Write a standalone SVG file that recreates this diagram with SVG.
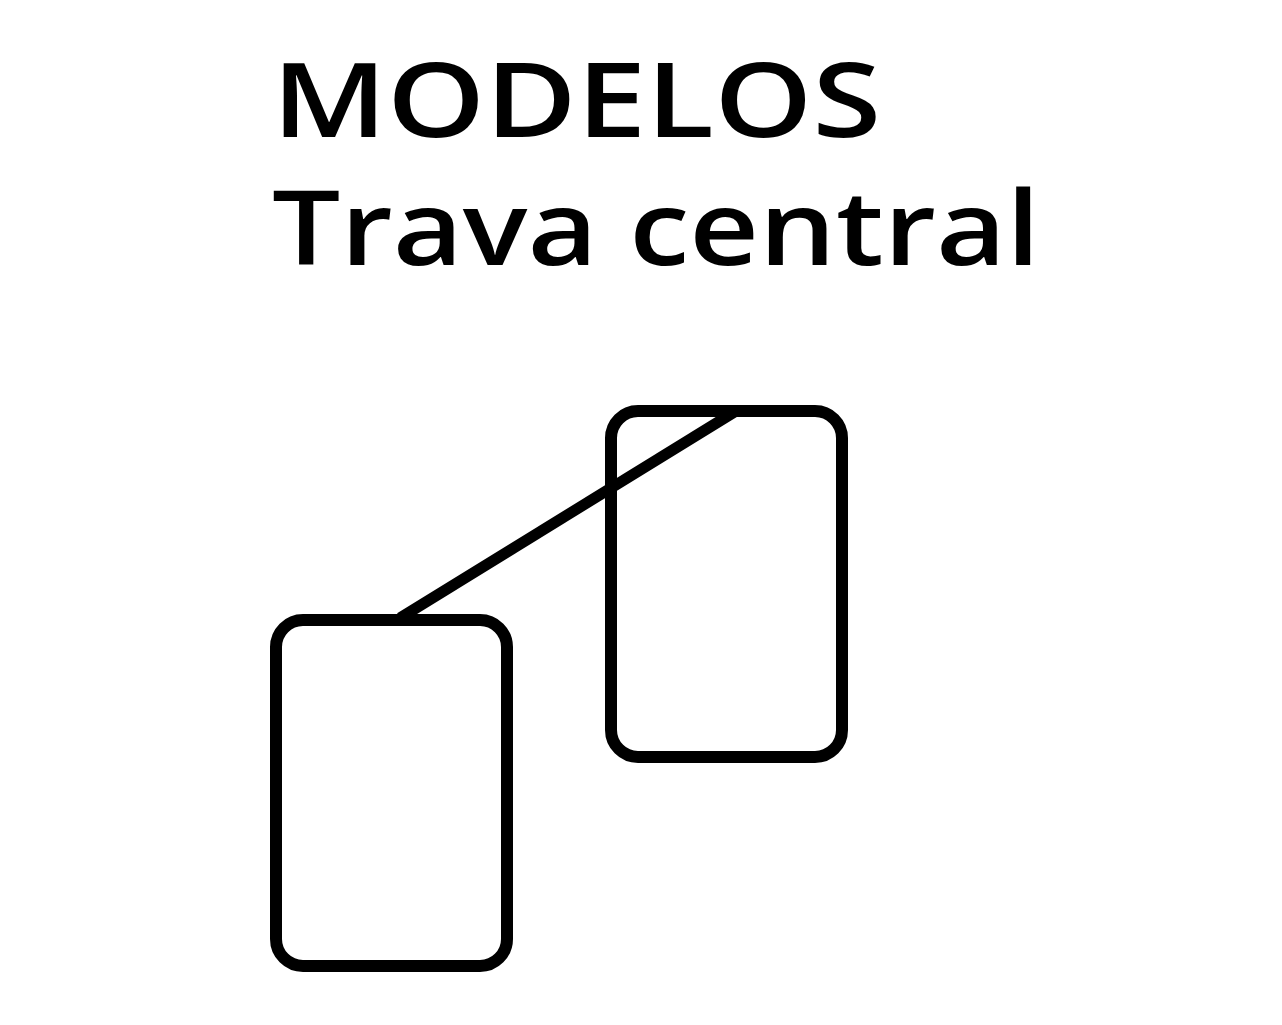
<svg xmlns="http://www.w3.org/2000/svg" width="1282" height="1025" viewBox="0 0 1282 1025">
<style>
.t{font-family:"Open Sans","Noto Sans","Liberation Sans",sans-serif;font-weight:600;font-size:104px;fill:#000}
.box{fill:none;stroke:#000;stroke-width:12}
.con{stroke:#000;stroke-width:11;stroke-linecap:butt}
</style>
<rect width="1282" height="1025" fill="#fff"/>
<g id="title">
<text class="t" x="272" y="137" textLength="609" lengthAdjust="spacingAndGlyphs">MODELOS</text>
<text class="t" x="272" y="265" textLength="768" lengthAdjust="spacingAndGlyphs">Trava central</text>
</g>
<g id="connectors">
<line class="con" x1="400" y1="618" x2="736" y2="411"/>
</g>
<g id="node-left">
<rect class="box" x="276" y="620" width="231" height="346" rx="27"/>
</g>
<g id="node-right">
<rect class="box" x="611" y="411" width="231" height="346" rx="27"/>
</g>
</svg>
